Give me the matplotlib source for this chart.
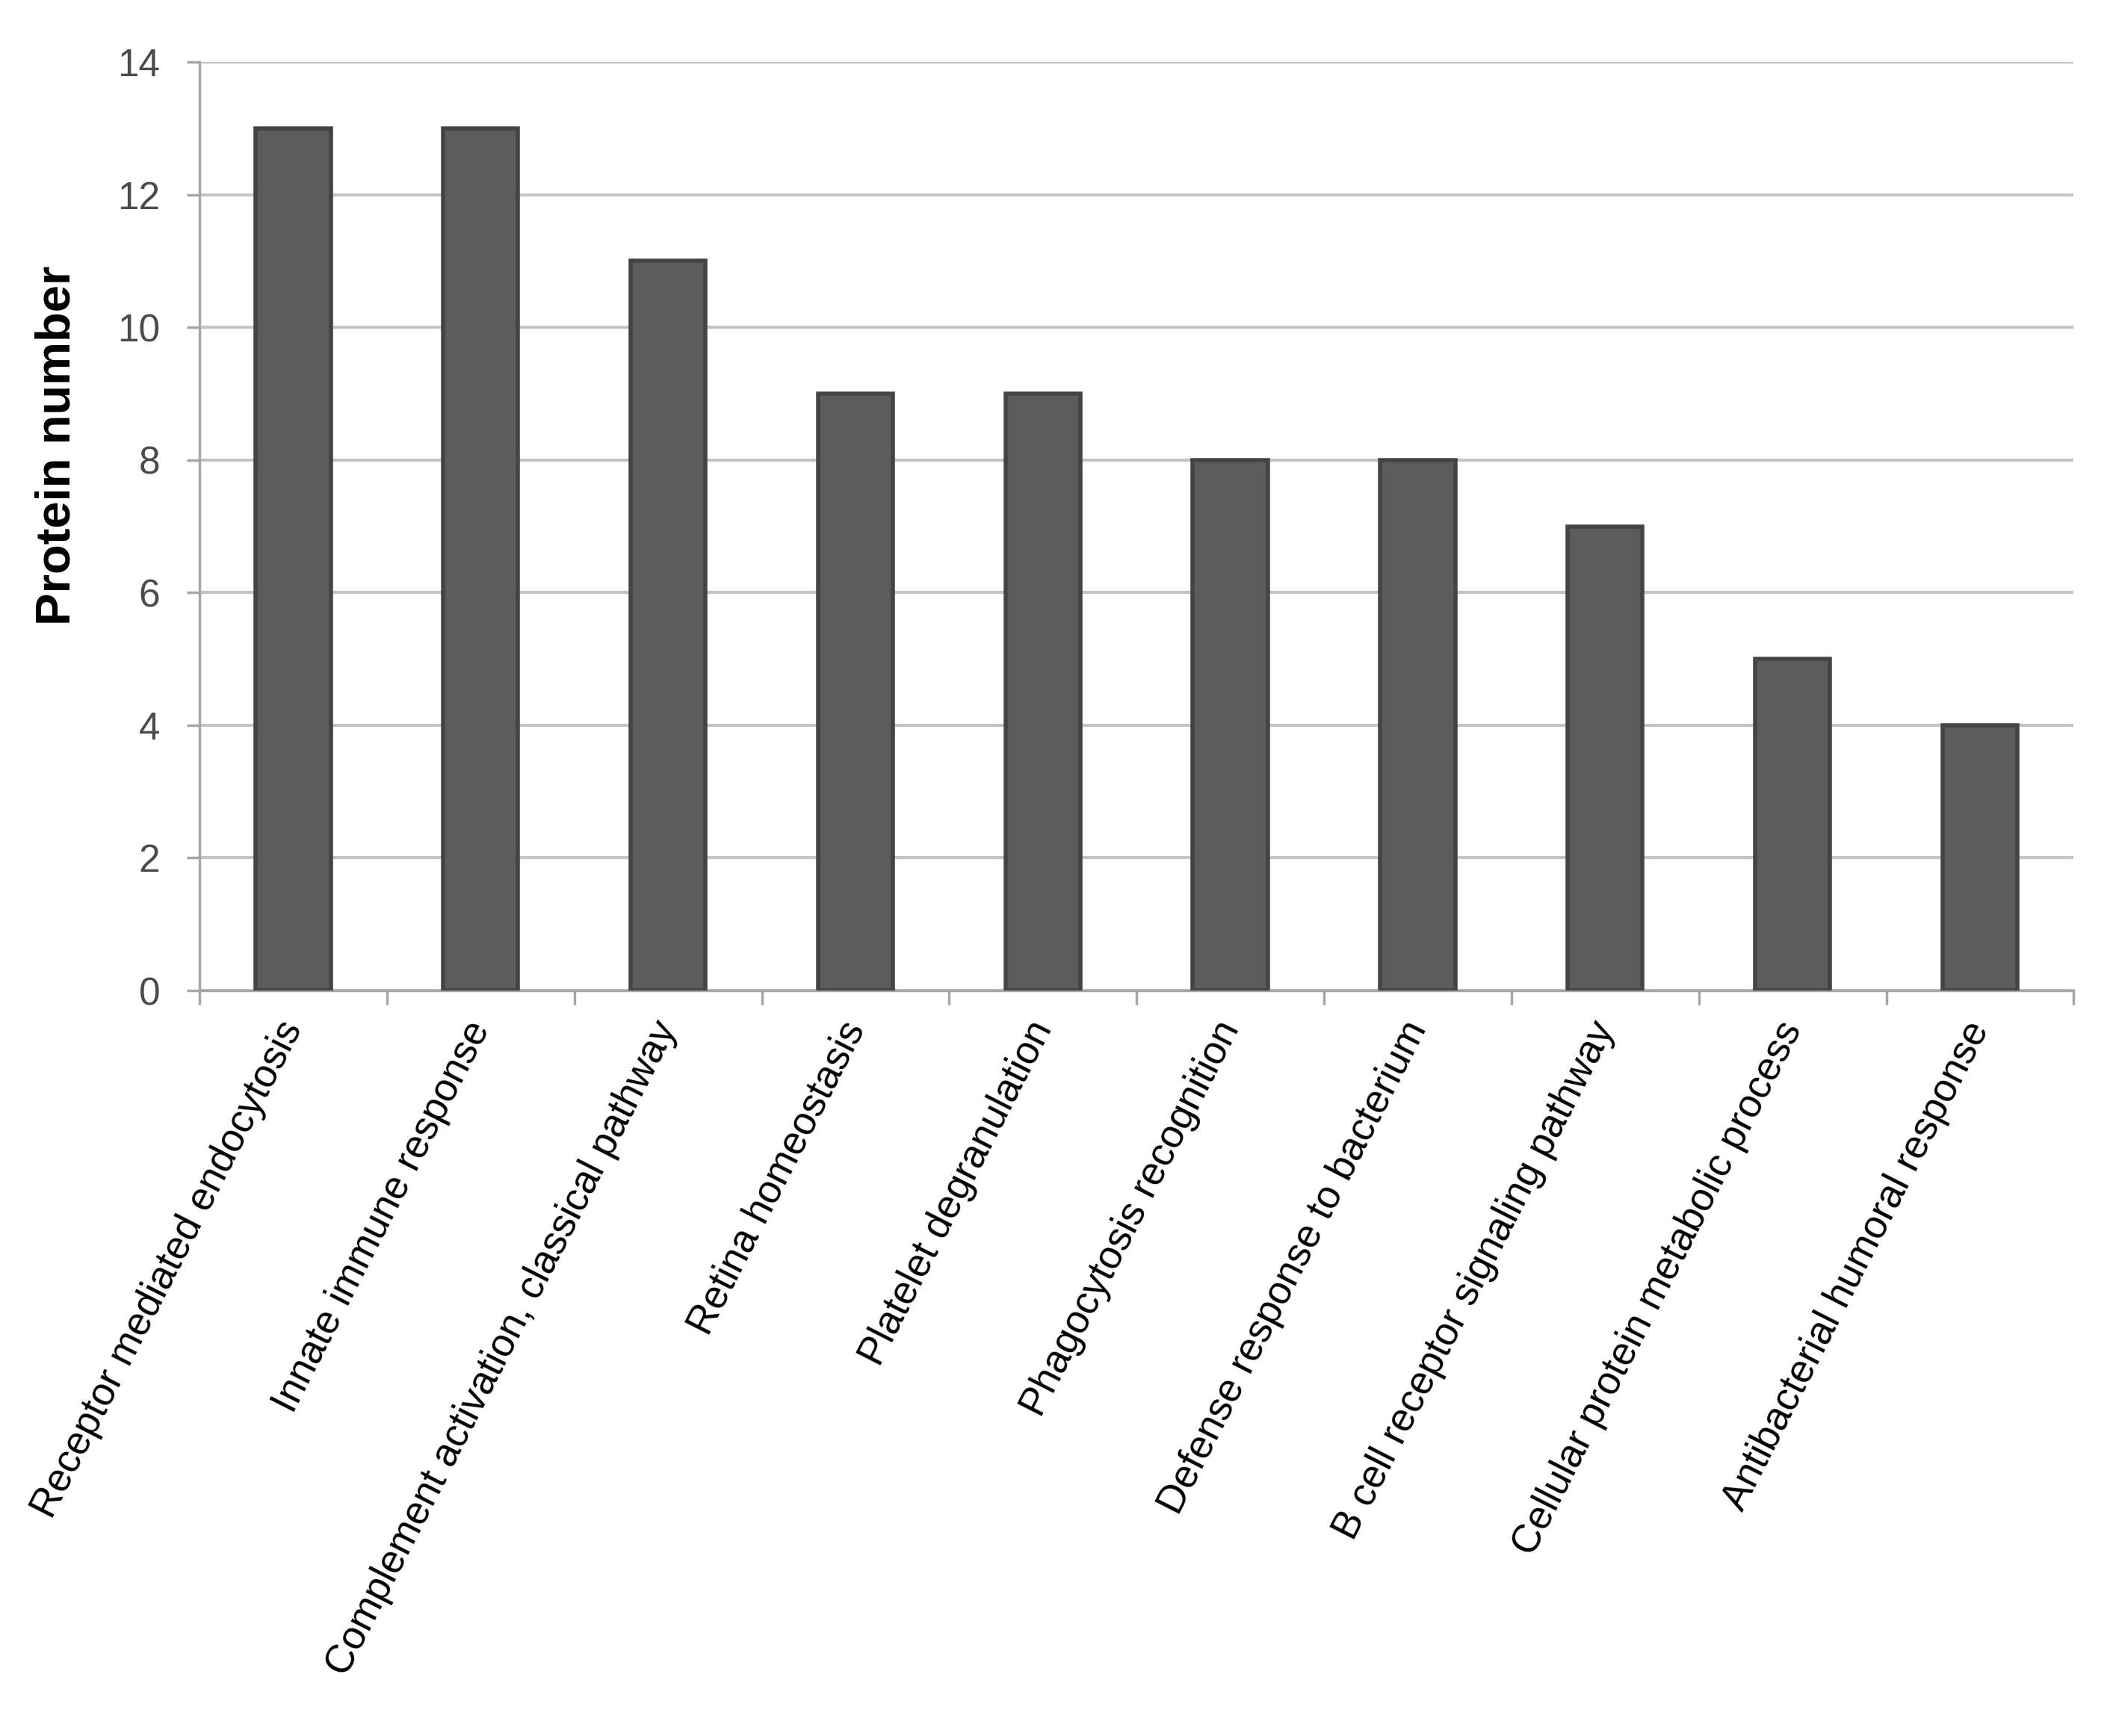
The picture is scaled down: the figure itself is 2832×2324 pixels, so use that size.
import matplotlib.pyplot as plt
import numpy as np

plt.rcParams['font.family'] = ['Liberation Sans', 'DejaVu Sans']

# GO biological process terms and protein counts
categories = ["Receptor mediated endocytosis", "Innate immune response",
              "Complement activation, classical pathway", "Retina homeostasis",
              "Platelet degranulation", "Phagocytosis recognition",
              "Defense response to bacterium", "B cell receptor signaling pathway",
              "Cellular protein metabolic process", "Antibacterial humoral response"]
counts = [13, 13, 11, 9, 9, 8, 8, 7, 5, 4]
yticks = [0, 2, 4, 6, 8, 10, 12, 14]

fig = plt.figure(figsize=(28.32, 23.24), dpi=100)
ax = fig.add_axes([0.0943, 0.4294, 0.8857, 0.5349])

x = np.arange(len(categories))
ax.bar(x, counts, width=0.4, color="#5c5c5c", edgecolor="#444444", linewidth=4, zorder=3)

ax.set_xlim(-0.5, len(categories) - 0.5)
ax.set_ylim(0, 14)
ax.set_yticks(yticks)
ax.yaxis.grid(True, color="#c4c4c4", linewidth=3, zorder=0)
ax.set_axisbelow(True)

for s in ["top", "right"]:
    ax.spines[s].set_visible(False)
for s in ["left", "bottom"]:
    ax.spines[s].set_color("#a6a6a6")
    ax.spines[s].set_linewidth(2.5)

ax.tick_params(axis="y", colors="#a6a6a6", length=12, width=2.5, labelsize=37,
               labelcolor="#4a4a4a", pad=26)

# category labels at bar centres, tick marks at category boundaries
ax.set_xticks(x)
ax.set_xticklabels(categories, rotation=63, ha="right", va="center",
                   rotation_mode="anchor", fontsize=38)
ax.tick_params(axis="x", which="major", length=0, pad=32)
ax.set_xticks(np.arange(-0.5, len(categories)), minor=True)
ax.tick_params(axis="x", which="minor", length=14, width=2.5, colors="#a6a6a6")

ax.set_ylabel("Protein number", fontsize=47, fontweight="bold")
ax.yaxis.set_label_coords(-0.064, 0.587)

plt.savefig("out.png", dpi=100)
